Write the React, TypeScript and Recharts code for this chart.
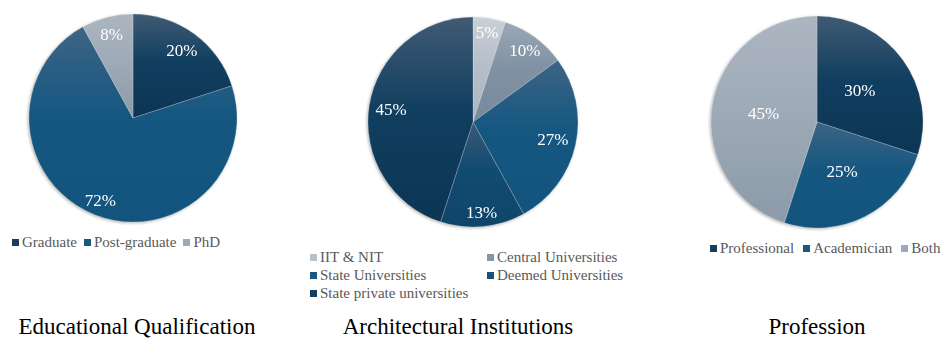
import React from 'react';
import { PieChart, Pie, Cell } from 'recharts';

// Educational qualification
const eduNames = ['Graduate', 'Post-graduate', 'PhD'];
const eduValues = [20, 72, 8];

// Architectural institutions
const instNames = [
  'IIT & NIT',
  'Central Universities',
  'State Universities',
  'Deemed Universities',
  'State private universities',
];
const instValues = [5, 10, 27, 13, 45];

// Profession
const profNames = ['Professional', 'Academician', 'Both'];
const profValues = [30, 25, 45];

const FONT = '"Liberation Serif", "Times New Roman", serif';

// gradient shades: [top, middle, bottom, legend swatch]
const SHADES: Record<string, [string, string, string, string]> = {
  navy: ['#405a74', '#113f60', '#0c3554', '#163f5f'],
  blue: ['#3e6484', '#155781', '#12547e', '#1a5881'],
  deemed: ['#3b5874', '#124b71', '#0f4569', '#17517a'],
  light: ['#cad0d7', '#b6bec8', '#adb6c0', '#b8c0c9'],
  central: ['#9aa8b6', '#8192a4', '#77899c', '#8696a7'],
  gray: ['#acb6c1', '#9eaab7', '#8c9aa9', '#9caab7'],
};

const eduShades = ['navy', 'blue', 'gray'];
const instShades = ['light', 'central', 'blue', 'deemed', 'navy'];
const profShades = ['navy', 'blue', 'gray'];

// where each data label sits, as a share of the radius (Excel "best fit")
const eduLabelPos = [0.8, 0.85, 0.83];
const instLabelPos = [0.86, 0.84, 0.78, 0.87, 0.79];
const profLabelPos = [0.5, 0.52, 0.51];

const RAD = Math.PI / 180;

const makeLabel = (pos: number[]) => (props: any) => {
  const { cx, cy, midAngle, outerRadius, value, index } = props;
  const r = outerRadius * pos[index];
  const x = cx + r * Math.cos(-midAngle * RAD);
  const y = cy + r * Math.sin(-midAngle * RAD);
  return (
    <text
      x={x}
      y={y}
      fill="#ffffff"
      fontFamily={FONT}
      fontSize={17}
      textAnchor="middle"
      dominantBaseline="central"
    >
      {`${value}%`}
    </text>
  );
};

function Gradients({ prefix }: { prefix: string }) {
  return (
    <defs>
      {Object.keys(SHADES).map((k) => (
        <linearGradient key={k} id={`${prefix}-${k}`} x1="0" y1="0" x2="0" y2="1">
          <stop offset="0%" stopColor={SHADES[k][0]} />
          <stop offset="45%" stopColor={SHADES[k][1]} />
          <stop offset="100%" stopColor={SHADES[k][2]} />
        </linearGradient>
      ))}
    </defs>
  );
}

interface PieBoxProps {
  id: string;
  names: string[];
  values: number[];
  shades: string[];
  labelPos: number[];
  left: number;
  width: number;
  cx: number;
  cy: number;
  radius: number;
}

function PieBox({ id, names, values, shades, labelPos, left, width, cx, cy, radius }: PieBoxProps) {
  const data = names.map((name, i) => ({ name, value: values[i] }));
  return (
    <div
      style={{
        position: 'absolute',
        left,
        top: 0,
        filter: 'drop-shadow(-1px 1px 1.5px rgba(0,0,0,0.3))',
      }}
    >
      <PieChart width={width} height={235}>
        <Gradients prefix={id} />
        <Pie
          data={data}
          dataKey="value"
          nameKey="name"
          cx={cx}
          cy={cy}
          outerRadius={radius}
          startAngle={90}
          endAngle={-270}
          label={makeLabel(labelPos)}
          labelLine={false}
          stroke="rgba(255,255,255,0.35)"
          strokeWidth={0.6}
          isAnimationActive={false}
        >
          {data.map((d, i) => (
            <Cell key={d.name} fill={`url(#${id}-${shades[i]})`} />
          ))}
        </Pie>
      </PieChart>
    </div>
  );
}

function LegendItem({ name, shade, gap }: { name: string; shade: string; gap: number }) {
  return (
    <span style={{ display: 'inline-flex', alignItems: 'center', marginRight: gap, whiteSpace: 'nowrap' }}>
      <span
        style={{
          display: 'inline-block',
          width: 7,
          height: 7,
          background: SHADES[shade][3],
          marginRight: 3,
        }}
      />
      {name}
    </span>
  );
}

const legendText: React.CSSProperties = {
  position: 'absolute',
  fontFamily: FONT,
  fontSize: 15,
  color: '#595959',
  lineHeight: '18px',
};

const titleStyle: React.CSSProperties = {
  position: 'absolute',
  top: 314,
  fontFamily: FONT,
  fontSize: 23,
  color: '#000',
  lineHeight: '26px',
  textAlign: 'center',
  width: 300,
};

export default function App() {
  return (
    <div
      style={{
        position: 'absolute',
        left: 0,
        top: 0,
        width: 946,
        height: 338,
        background: '#ffffff',
        overflow: 'hidden',
      }}
    >
      <PieBox id="edu" names={eduNames} values={eduValues} shades={eduShades} labelPos={eduLabelPos}
        left={0} width={260} cx={128} cy={113} radius={104} />
      <PieBox id="inst" names={instNames} values={instValues} shades={instShades} labelPos={instLabelPos}
        left={340} width={260} cx={128} cy={117} radius={105} />
      <PieBox id="prof" names={profNames} values={profValues} shades={profShades} labelPos={profLabelPos}
        left={680} width={266} cx={132} cy={117} radius={106} />

      <div style={{ ...legendText, left: 12, top: 233, display: 'flex' }}>
        {eduNames.map((n, i) => (
          <LegendItem key={n} name={n} shade={eduShades[i]} gap={7} />
        ))}
      </div>

      <div
        style={{
          ...legendText,
          left: 310,
          top: 248,
          display: 'grid',
          gridTemplateColumns: '177px auto',
        }}
      >
        {instNames.map((n, i) => (
          <LegendItem key={n} name={n} shade={instShades[i]} gap={0} />
        ))}
      </div>

      <div style={{ ...legendText, left: 710, top: 239, display: 'flex' }}>
        {profNames.map((n, i) => (
          <LegendItem key={n} name={n} shade={profShades[i]} gap={9} />
        ))}
      </div>

      <div style={{ ...titleStyle, left: -13 }}>Educational Qualification</div>
      <div style={{ ...titleStyle, left: 308 }}>Architectural Institutions</div>
      <div style={{ ...titleStyle, left: 667 }}>Profession</div>
    </div>
  );
}
